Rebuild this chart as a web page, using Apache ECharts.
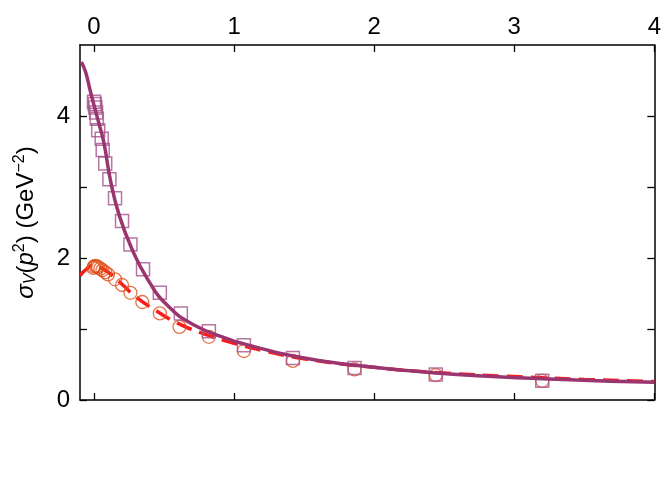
<!DOCTYPE html>
<html><head><meta charset="utf-8">
<script src="https://cdn.jsdelivr.net/npm/echarts@6/dist/echarts.min.js"></script>
<style>html,body{margin:0;padding:0;background:#fff}#c{width:664px;height:491px}</style>
</head><body><div id="c"></div>
<script>
const xTicks = [0,1,2,3,4];
const yTicks = [0,1,2,3,4];
const yLabels = [0,2,4];
const squaresX = [0.0,0.005,0.01,0.015,0.02,0.03,0.055,0.062,0.08,0.11,0.15,0.2,0.26,0.35,0.47,0.62,0.82,1.07,1.42,1.86,2.44,3.2];
const squaresY = [4.2,4.17,4.12,4.05,3.96,3.8,3.68,3.52,3.33,3.11,2.84,2.52,2.19,1.84,1.51,1.22,0.97,0.77,0.59,0.45,0.36,0.27];
const circlesX = [-0.005,0.0,0.01,0.02,0.03,0.045,0.06,0.08,0.1,0.15,0.2,0.26,0.345,0.47,0.61,0.82,1.07,1.42,1.86,2.44,3.2];
const circlesY = [1.86,1.88,1.89,1.88,1.87,1.85,1.83,1.8,1.77,1.7,1.62,1.51,1.38,1.22,1.03,0.89,0.69,0.55,0.43,0.35,0.27];
const solidX = [-0.09,-0.06,-0.03,0.007,0.04,0.07,0.12,0.18,0.27,0.38,0.52,0.71,0.97,1.07,1.42,1.86,2.44,3.2,4.0];
const solidY = [4.76,4.62,4.38,4.1,3.86,3.63,3.07,2.6,2.13,1.71,1.34,1.06,0.85,0.79,0.62,0.49,0.38,0.30,0.25];
const dashX = [-0.1,-0.05,0.0,0.05,0.1,0.2,0.3,0.45,0.6,0.8,1.0,1.2,1.5,2.0,2.5,3.0,3.5,4.0];
const dashY = [1.75,1.85,1.9,1.86,1.8,1.63,1.45,1.25,1.08,0.92,0.8,0.7,0.58,0.46,0.38,0.33,0.29,0.26];
const zip=(a,b)=>a.map((v,i)=>[v,b[i]]);
const chart = echarts.init(document.getElementById('c'));
const axisLine = {show:true,onZero:false,lineStyle:{color:'#000',width:1.5}};
const tick = vals=>({show:true,inside:true,length:7,customValues:vals,lineStyle:{color:'#000',width:1.3}});
chart.setOption({
  animation:false,
  grid:{left:80,right:7,top:45,bottom:91},
  xAxis:[
    {type:'value',position:'top',min:-0.1,max:4,axisLine,axisTick:tick(xTicks),splitLine:{show:false},
      axisLabel:{fontSize:24,color:'#000',fontFamily:'Liberation Sans',customValues:xTicks,margin:6}},
    {type:'value',position:'bottom',min:-0.1,max:4,axisLine,axisTick:tick(xTicks),splitLine:{show:false},axisLabel:{show:false}}
  ],
  yAxis:[
    {type:'value',position:'left',min:0,max:5,axisLine,axisTick:tick(yTicks),splitLine:{show:false},
      axisLabel:{fontSize:24,color:'#000',fontFamily:'Liberation Sans',customValues:yLabels,margin:10},
      name:'{i|σ}{s|V}{n|(}{i|p}{p|2}{n|) (GeV}{p|−2}{n|)}',nameLocation:'middle',nameGap:40,nameRotate:90,
      nameTextStyle:{fontFamily:'Liberation Sans',color:'#000',rich:{
        i:{fontSize:24,fontStyle:'italic',fontFamily:'Liberation Sans'},
        n:{fontSize:24,fontFamily:'Liberation Sans'},
        s:{fontSize:16,fontStyle:'italic',fontFamily:'Liberation Sans',padding:[10,0,0,0]},
        p:{fontSize:16,fontFamily:'Liberation Sans',padding:[0,0,12,0]}}}},
    {type:'value',position:'right',min:0,max:5,axisLine,axisTick:tick(yTicks),splitLine:{show:false},axisLabel:{show:false}}
  ],
  series:[
    {type:'line',data:zip(dashX,dashY),smooth:true,symbol:'none',lineStyle:{color:'#ff1a1a',width:3.5,type:[16,8]},z:3},
    {type:'scatter',data:zip(circlesX,circlesY),symbol:'circle',symbolSize:13,itemStyle:{color:'rgba(255,255,255,0)',borderColor:'#e0501a',borderWidth:1.3},z:4},
    {type:'scatter',data:zip(squaresX,squaresY),symbol:'rect',symbolSize:13,itemStyle:{color:'rgba(255,255,255,0)',borderColor:'#a5538c',borderWidth:1.5},z:4},
    {type:'line',data:zip(solidX,solidY),smooth:true,symbol:'none',lineStyle:{color:'#9b356f',width:3.5},z:5}
  ]
});
</script></body></html>
